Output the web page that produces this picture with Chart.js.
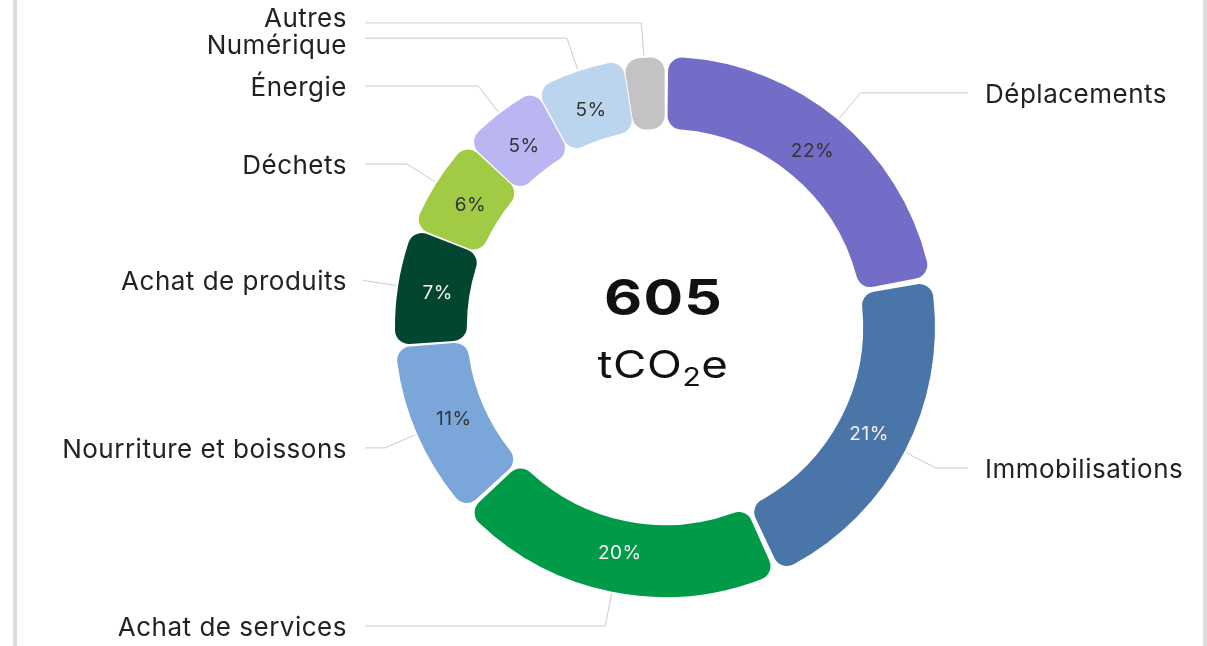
<!DOCTYPE html>
<html><head><meta charset="utf-8">
<script src="https://cdn.jsdelivr.net/npm/chart.js@4.4.1/dist/chart.umd.min.js"></script>
<style>
html,body{margin:0;padding:0;background:#fff;}
#wrap{position:relative;width:1207px;height:646px;overflow:hidden;background:#fff;}
.bar{position:absolute;top:0;width:4px;height:646px;background:#dcdcdc;}
canvas{position:absolute;left:0;top:0;}
</style></head><body>
<div id="wrap">
<div class="bar" style="left:13px"></div>
<div class="bar" style="left:1203px"></div>
<canvas id="c" width="1207" height="646" style="width:1207px;height:646px"></canvas>
</div>
<script>
// Categories and values (tCO2e)
const categories = ['Déplacements','Immobilisations','Achat de services','Nourriture et boissons','Achat de produits','Déchets','Énergie','Numérique','Autres'];
const values = [134, 127, 121, 65, 43, 36, 31, 33, 15];
const colors = ['#736dc8','#4a75a9','#009a49','#7ba6da','#024632','#a2cb45','#bab6f2','#bcd5ee','#c3c3c3'];
const pctTextColors = ['#333333','#f2f2f2','#f2f2f2','#333333','#f2f2f2','#333333','#333333','#333333','#333333'];
const unitParts = ['tCO', '2', 'e'];

const FONT = 'Inter, "Noto Sans", sans-serif';

const labelPlugin = {
  id: 'sideLabels',
  afterDatasetsDraw(chart) {
    const ctx = chart.ctx;
    const meta = chart.getDatasetMeta(0);
    const data = chart.data.datasets[0].data;
    const total = data.reduce((a, b) => a + b, 0);
    const items = [];
    let cx = 0, cy = 0;
    ctx.save();
    ctx.textAlign = 'center';
    ctx.textBaseline = 'middle';
    ctx.font = '19px ' + FONT;
    ctx.letterSpacing = '0.5px';
    meta.data.forEach((arc, i) => {
      const p = arc.getProps(['x','y','startAngle','endAngle','innerRadius','outerRadius'], true);
      cx = p.x; cy = p.y;
      const mid = (p.startAngle + p.endAngle) / 2;
      const pct = Math.round(data[i] / total * 100);
      const cos = Math.cos(mid), sin = Math.sin(mid);
      if (pct >= 4) {
        const r = (p.innerRadius + p.outerRadius) / 2;
        ctx.fillStyle = pctTextColors[i];
        ctx.fillText(pct + '%', p.x + cos * r, p.y + sin * r + 1);
      }
      const r0 = p.outerRadius + 6, r1 = p.outerRadius + 39;
      items.push({i, right: cos >= 0, x0: p.x + cos * r0, y0: p.y + sin * r0,
        x1: p.x + cos * r1, y1: p.y + sin * r1, ty: p.y + sin * r1});
    });
    // repel text per side
    [true, false].forEach(side => {
      const arr = items.filter(o => o.right === side).sort((a, b) => a.y1 - b.y1);
      const gap = 27;
      for (let k = 0; k < 30; k++) {
        for (let j = 1; j < arr.length; j++) {
          const d = arr[j].ty - arr[j-1].ty;
          if (d < gap) { const s = (gap - d) / 2; arr[j-1].ty -= s; arr[j].ty += s; }
        }
      }
    });
    ctx.strokeStyle = '#cbcbcb';
    ctx.lineWidth = 1;
    ctx.font = '26px ' + FONT;
    ctx.letterSpacing = '0.5px';
    ctx.fillStyle = '#222222';
    items.forEach(o => {
      const lineEnd = o.right ? cx + 303 : cx - 300;
      ctx.beginPath();
      ctx.moveTo(o.x0, o.y0);
      ctx.lineTo(o.x1, o.y1);
      ctx.lineTo(lineEnd, o.y1);
      ctx.stroke();
      ctx.textAlign = o.right ? 'left' : 'right';
      ctx.fillText(categories[o.i], o.right ? cx + 320 : cx - 318, o.ty + 2);
    });
    // centre text (slightly widened glyphs)
    ctx.letterSpacing = '0px';
    ctx.textBaseline = 'alphabetic';
    ctx.fillStyle = '#111111';
    const sx = 1.2;
    ctx.save();
    ctx.translate(cx - 2, cy - 12);
    ctx.scale(sx, 1);
    ctx.textAlign = 'center';
    ctx.font = 'bold 49px ' + FONT;
    ctx.letterSpacing = '1px';
    ctx.fillText(String(total), 0.5, 0);
    ctx.restore();

    ctx.save();
    ctx.letterSpacing = '0.5px';
    ctx.font = '38px ' + FONT;
    const w1 = ctx.measureText(unitParts[0]).width;
    const w3 = ctx.measureText(unitParts[2]).width;
    ctx.font = '25px ' + FONT;
    const w2 = ctx.measureText(unitParts[1]).width;
    ctx.translate(cx - 2, cy + 51);
    ctx.scale(sx, 1);
    let x = -(w1 + w2 + w3) / 2;
    ctx.textAlign = 'left';
    ctx.font = '38px ' + FONT;
    ctx.fillText(unitParts[0], x, 0);
    x += w1;
    ctx.font = '25px ' + FONT;
    ctx.fillText(unitParts[1], x, 8);
    x += w2;
    ctx.font = '38px ' + FONT;
    ctx.fillText(unitParts[2], x, 0);
    ctx.restore();
    ctx.restore();
  }
};

new Chart(document.getElementById('c'), {
  type: 'doughnut',
  data: {
    labels: categories,
    datasets: [{
      data: values,
      backgroundColor: colors,
      borderWidth: 0,
      borderRadius: 14,
      spacing: 8,
      radius: 266,
      cutout: '73%'
    }]
  },
  options: {
    responsive: false,
    animation: false,
    events: [],
    layout: { padding: { left: 123, top: 8, right: 0, bottom: 0 } },
    plugins: { legend: { display: false }, tooltip: { enabled: false } }
  },
  plugins: [labelPlugin]
});
</script>
</body></html>
